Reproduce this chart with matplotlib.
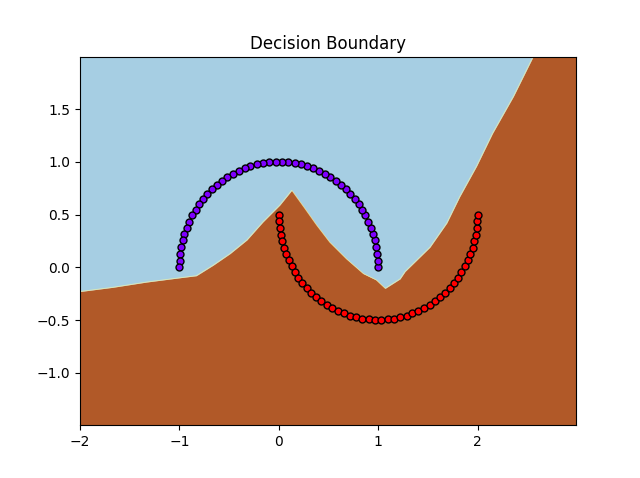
import matplotlib
matplotlib.use("Agg")
import matplotlib.pyplot as plt

# Decision boundary
bound_x = [-2.0, -1.67, -1.33, -1.0, -0.83, -0.66, -0.49, -0.32, -0.16, 0.01, 0.13,
           0.26, 0.38, 0.51, 0.68, 0.85, 0.98, 1.07, 1.12, 1.22, 1.27, 1.52, 1.69,
           1.82, 1.99, 2.15, 2.36, 2.56, 2.99]
bound_y = [-0.23, -0.19, -0.14, -0.10, -0.08, 0.02, 0.13, 0.26, 0.43, 0.59, 0.73,
           0.56, 0.40, 0.24, 0.08, -0.06, -0.12, -0.20, -0.17, -0.11, -0.04, 0.19, 0.42,
           0.67, 0.96, 1.27, 1.62, 2.00, 2.00]

# Class 0 (outer moon)
c0_x = [1.000, 0.998, 0.992, 0.982, 0.967, 0.949, 0.927, 0.901, 0.871, 0.838, 0.802, 0.762, 0.718,
        0.672, 0.624, 0.572, 0.518, 0.463, 0.405, 0.345, 0.285, 0.223, 0.160, 0.096, 0.032,
        -0.032, -0.096, -0.160, -0.223, -0.285, -0.345, -0.405, -0.463, -0.518, -0.572, -0.624,
        -0.672, -0.718, -0.762, -0.802, -0.838, -0.871, -0.901, -0.927, -0.949, -0.967, -0.982,
        -0.992, -0.998, -1.000]
c0_y = [0.000, 0.064, 0.128, 0.191, 0.254, 0.315, 0.375, 0.434, 0.491, 0.546, 0.598, 0.648, 0.696,
        0.740, 0.782, 0.820, 0.855, 0.887, 0.914, 0.938, 0.959, 0.975, 0.987, 0.995, 0.999,
        0.999, 0.995, 0.987, 0.975, 0.959, 0.938, 0.914, 0.887, 0.855, 0.820, 0.782, 0.740,
        0.696, 0.648, 0.598, 0.546, 0.491, 0.434, 0.375, 0.315, 0.254, 0.191, 0.128, 0.064, 0.000]

# Class 1 (inner moon)
c1_x = [0.000, 0.002, 0.008, 0.018, 0.033, 0.051, 0.073, 0.099, 0.129, 0.162, 0.198, 0.238, 0.282,
        0.328, 0.376, 0.428, 0.482, 0.537, 0.595, 0.655, 0.715, 0.777, 0.840, 0.904, 0.968,
        1.032, 1.096, 1.160, 1.223, 1.285, 1.345, 1.405, 1.463, 1.518, 1.572, 1.624, 1.672,
        1.718, 1.762, 1.802, 1.838, 1.871, 1.901, 1.927, 1.949, 1.967, 1.982, 1.992, 1.998, 2.000]
c1_y = [0.500, 0.436, 0.372, 0.309, 0.246, 0.185, 0.125, 0.066, 0.009, -0.046, -0.098, -0.148,
        -0.196, -0.240, -0.282, -0.320, -0.355, -0.387, -0.414, -0.438, -0.459, -0.475, -0.487,
        -0.495, -0.499, -0.499, -0.495, -0.487, -0.475, -0.459, -0.438, -0.414, -0.387, -0.355,
        -0.320, -0.282, -0.240, -0.196, -0.148, -0.098, -0.046, 0.009, 0.066, 0.125, 0.185,
        0.246, 0.309, 0.372, 0.436, 0.500]

xmin, xmax = -2.0, 2.99
ymin, ymax = -1.4995, 1.9905

fig, ax = plt.subplots(figsize=(6.4, 4.78), dpi=100)
ax.fill_between(bound_x, bound_y, ymax + 1, color="#a6cee3", linewidth=0)
ax.fill_between(bound_x, ymin - 1, bound_y, color="#b15928", linewidth=0)
ax.plot(bound_x, bound_y, color="#ffff99", linewidth=0.6, alpha=0.6)

ax.scatter(c0_x, c0_y, s=25, color="#7f00ff", edgecolors="black", linewidths=1, zorder=3)
ax.scatter(c1_x, c1_y, s=25, color="#ff0000", edgecolors="black", linewidths=1, zorder=3)

ax.set_xlim(xmin, xmax)
ax.set_ylim(ymin, ymax)
ax.set_title("Decision Boundary")
fig.savefig("out.png", dpi=100)
